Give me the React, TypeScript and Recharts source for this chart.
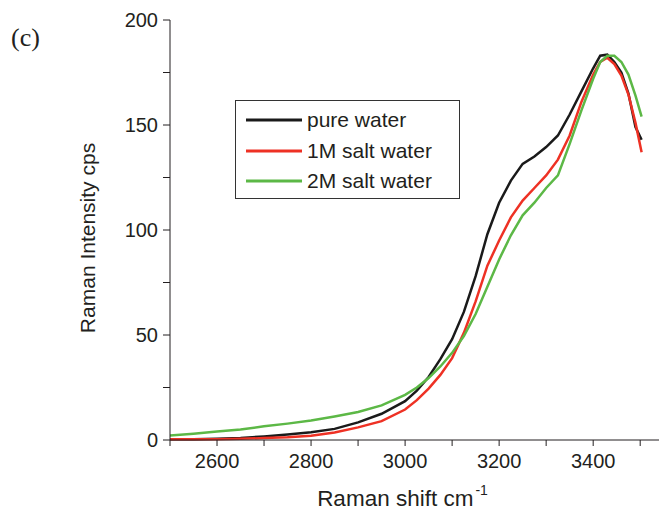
import React from "react";
import {
  LineChart,
  Line,
  XAxis,
  YAxis,
} from "recharts";

// Raman shift (cm-1) sample positions
const SHIFTS = [
  2500, 2550, 2600, 2650, 2700, 2750, 2800, 2850, 2900, 2950, 3000, 3025, 3050,
  3075, 3100, 3125, 3150, 3175, 3200, 3225, 3250, 3275, 3300, 3325, 3350, 3375,
  3400, 3415, 3430, 3445, 3460, 3475, 3490, 3503,
];

const PURE_WATER = [
  0.3, 0.3, 0.6, 1.0, 1.7, 2.6, 3.7, 5.3, 8.4, 12.5, 18.5, 23.5, 30, 38.5, 48,
  61, 78, 98, 113, 123.5, 131.5, 135, 139.5, 145, 155, 166, 177, 183, 183.5,
  180, 175, 165, 149, 143,
];

const SALT_1M = [
  0.3, 0.3, 0.4, 0.6, 0.9, 1.3, 2.0, 3.6, 6.0, 9.0, 14.5, 19, 24.5, 31, 39, 51,
  66, 83, 95, 106, 114, 120, 126, 133.5, 145, 161, 174, 180, 182, 179, 173.5,
  164.5, 151, 137,
];

const SALT_2M = [
  2.2, 3.0, 4.0, 5.0, 6.5, 7.8, 9.3, 11.2, 13.3, 16.5, 21.5, 25, 29.5, 35, 41.5,
  49.5, 60, 73, 86, 97.5, 107, 113, 120, 126, 141, 157, 172, 180, 183, 183, 180,
  174, 164, 154,
];

const SERIES = [
  { key: "pure", name: "pure water", color: "#1a1a1a", values: PURE_WATER },
  { key: "m1", name: "1M salt water", color: "#ee3124", values: SALT_1M },
  { key: "m2", name: "2M salt water", color: "#5cb846", values: SALT_2M },
];

const X_TICKS = [2500, 2600, 2700, 2800, 2900, 3000, 3100, 3200, 3300, 3400, 3500];
const Y_TICKS = [0, 25, 50, 75, 100, 125, 150, 175, 200];

const data = SHIFTS.map((x, i) => {
  const row: Record<string, number> = { shift: x };
  SERIES.forEach((s) => (row[s.key] = s.values[i]));
  return row;
});

const FONT = "'Liberation Sans', Arial, sans-serif";
const INK = "#231f20";

// legend drawn as an overlay so it doesn't eat plot height
function LegendBox() {
  return (
    <div
      style={{
        position: "absolute",
        left: 235,
        top: 100,
        border: "1px solid #333",
        background: "#fff",
        width: 225,
        height: 99,
        boxSizing: "border-box",
        paddingTop: 4,
      }}
    >
      {SERIES.map((s) => (
        <div
          key={s.key}
          style={{ display: "flex", alignItems: "center", height: 30.5 }}
        >
          <svg width={71} height={10} style={{ flex: "none" }}>
            <line x1={10} x2={66} y1={5} y2={5} stroke={s.color} strokeWidth={3} />
          </svg>
          <span style={{ fontFamily: FONT, fontSize: 21, color: INK }}>
            {s.name}
          </span>
        </div>
      ))}
    </div>
  );
}

export default function App() {
  return (
    <div style={{ position: "absolute", left: 0, top: 0, width: 659, height: 513 }}>
      <div
        style={{
          position: "absolute",
          left: 11,
          top: 23,
          fontFamily: "'Liberation Serif', 'Times New Roman', serif",
          fontSize: 26,
          color: INK,
        }}
      >
        (c)
      </div>
      <LineChart
        width={659}
        height={513}
        data={data}
        margin={{ top: 20, right: 0, bottom: 33, left: 110 }}
      >
        <XAxis
          dataKey="shift"
          type="number"
          domain={[2500, 3540]}
          ticks={X_TICKS}
          allowDataOverflow
          tickFormatter={(v: number) => (v % 200 === 0 ? String(v) : "")}
          height={40}
          tickSize={6}
          tickMargin={8}
          stroke={INK}
          tick={{ fill: INK, fontSize: 20, fontFamily: FONT }}
          label={(props: any) => {
            const vb = props.viewBox;
            return (
              <text
                x={vb.x + vb.width / 2 - 12}
                y={vb.y + 66}
                textAnchor="middle"
                fontFamily={FONT}
                fontSize={22.5}
                fill={INK}
              >
                Raman shift cm
                <tspan dx={2} dy={-11} fontSize={14}>
                  -1
                </tspan>
              </text>
            );
          }}
        />
        <XAxis
          xAxisId="top"
          orientation="top"
          dataKey="shift"
          type="number"
          domain={[2500, 3540]}
          height={0}
          tick={false}
          tickLine={false}
          stroke={INK}
        />
        <YAxis
          type="number"
          domain={[0, 200]}
          ticks={Y_TICKS}
          tickFormatter={(v: number) => (v % 50 === 0 ? String(v) : "")}
          width={60}
          tickSize={7}
          tickMargin={5}
          stroke={INK}
          tick={{ fill: INK, fontSize: 20, fontFamily: FONT }}
          label={(props: any) => {
            const vb = props.viewBox;
            const cx = vb.x - 23;
            const cy = vb.y + vb.height / 2 + 8;
            return (
              <text
                x={cx}
                y={cy}
                transform={`rotate(-90 ${cx} ${cy})`}
                textAnchor="middle"
                dominantBaseline="central"
                fontFamily={FONT}
                fontSize={21}
                fill={INK}
              >
                Raman Intensity cps
              </text>
            );
          }}
        />
        {SERIES.map((s) => (
          <Line
            key={s.key}
            dataKey={s.key}
            name={s.name}
            type="linear"
            stroke={s.color}
            strokeWidth={2.5}
            dot={false}
            isAnimationActive={false}
          />
        ))}
      </LineChart>
      <LegendBox />
    </div>
  );
}
